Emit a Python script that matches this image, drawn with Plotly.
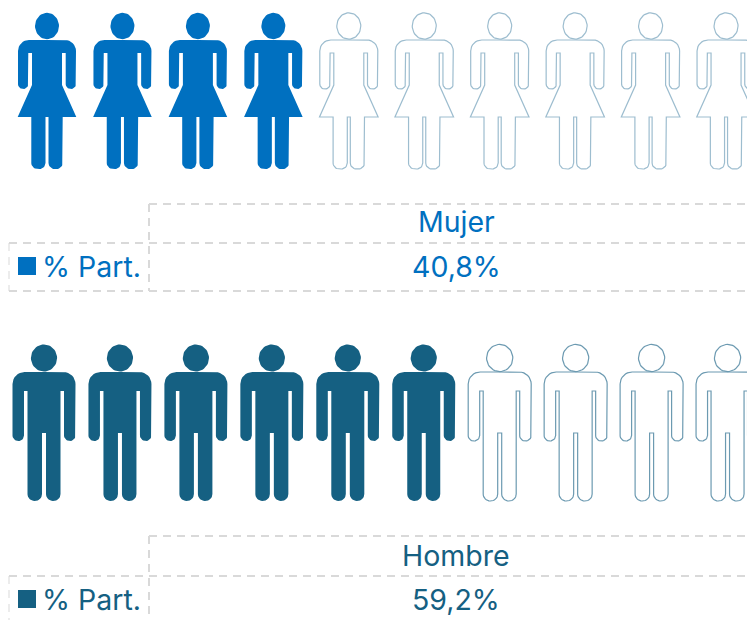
import math
import plotly.graph_objects as go

categories = ["Mujer", "Hombre"]
part_values = [40.8, 59.2]
row_label = "% Part."
icons_total = 10
colors = ["#0070C0", "#156082"]
outline_colors = ["#9DBDCF", "#6C9AB1"]

FONT = "Inter"
GRID = "#D9D9D9"


def rounded(points, n=8):
    out = []
    m = len(points)
    for i, (x, y, r) in enumerate(points):
        if r == 0 or i == 0 or i == m - 1:
            out.append((x, y))
            continue
        px, py, _ = points[i - 1]
        qx, qy, _ = points[i + 1]
        a = math.hypot(px - x, py - y)
        b = math.hypot(qx - x, qy - y)
        sx, sy = x + (px - x) / a * r, y + (py - y) / a * r
        ex, ey = x + (qx - x) / b * r, y + (qy - y) / b * r
        for k in range(n + 1):
            t = k / n * math.pi / 2
            u, v = 1 - math.sin(t), 1 - math.cos(t)
            out.append((x + (sx - x) * u + (ex - x) * v, y + (sy - y) * u + (ey - y) * v))
    return out


def mirrored(half):
    pts = rounded(half)
    return pts + [(-x, y) for x, y in reversed(pts)]


def ellipse(cy, rx, ry, n=48):
    return [(rx * math.cos(2 * math.pi * k / n), cy + ry * math.sin(2 * math.pi * k / n)) for k in range(n + 1)]


woman_half = [
    (0, 40, 0), (29, 40, 11), (29, 89, 5), (18.7, 89, 5), (18.7, 53, 0), (15, 53, 0), (15, 85, 0),
    (29.3, 117, 0), (15.7, 117, 0), (15.7, 169, 6), (1.5, 169, 6), (1.5, 117, 0), (0, 117, 0),
]
man_half = [
    (0, 372, 0), (31.5, 372, 12), (31.5, 441, 5.5), (20, 441, 5.5), (20, 391, 0), (16.5, 391, 0),
    (16.5, 501, 7), (2, 501, 7), (2, 433, 0), (0, 433, 0),
]
glyphs = [
    {"body": mirrored(woman_half), "head": ellipse(26, 12, 13.2), "x0": 47.0, "pitch": 75.45},
    {"body": mirrored(man_half), "head": ellipse(358, 13.1, 13.6), "x0": 44.0, "pitch": 75.95},
]
rows = [
    {"top": 204, "mid": 243, "bot": 291, "head_y": 221, "val_y": 266},
    {"top": 536, "mid": 576, "bot": 624, "head_y": 555, "val_y": 599},
]

fig = go.Figure()
annotations, shapes = [], []


def dashed(x0, y0, x1, y1, width=2):
    shapes.append(dict(type="line", xref="x", yref="y", x0=x0, y0=y0, x1=x1, y1=y1,
                       line=dict(color=GRID, width=width, dash="8px,6px")))


def label(x, y, text, color, anchor="center", size=28.5):
    annotations.append(dict(x=x, y=y, xref="x", yref="y", text=text, showarrow=False, xanchor=anchor,
                            yanchor="middle", font=dict(family=FONT, size=size, color=color)))


for c, (cat, val) in enumerate(zip(categories, part_values)):
    g, r = glyphs[c], rows[c]
    filled = round(val / 100 * icons_total)
    for i in range(icons_total):
        cx = g["x0"] + g["pitch"] * i
        xs, ys = [], []
        for poly in (g["head"], g["body"] + g["body"][:1]):
            xs += [cx + p[0] for p in poly] + [None]
            ys += [p[1] for p in poly] + [None]
        on = i < filled
        fig.add_trace(go.Scatter(
            x=xs, y=ys, mode="lines", fill="toself",
            fillcolor=colors[c] if on else "rgba(255,255,255,0)",
            line=dict(color=colors[c] if on else outline_colors[c], width=0 if on else 1.2),
            hoverinfo="skip", showlegend=False))
    dashed(149, r["top"], 747, r["top"])
    dashed(9, r["mid"], 747, r["mid"])
    dashed(9, r["bot"], 747, r["bot"])
    dashed(149, r["top"], 149, r["bot"])
    dashed(9, r["mid"], 9, r["bot"], 1)
    label(456, r["head_y"], cat, colors[c])
    label(456, r["val_y"], f"{val:.1f}%".replace(".", ","), colors[c])
    label(40, r["val_y"], row_label, colors[c], "left")
    fig.add_trace(go.Scatter(x=[27], y=[r["val_y"]], mode="markers",
                             marker=dict(symbol="square", size=18, color=colors[c], line=dict(width=0)),
                             hoverinfo="skip", showlegend=False))

fig.update_layout(
    width=747, height=620, margin=dict(l=0, r=0, t=0, b=0),
    paper_bgcolor="white", plot_bgcolor="white", showlegend=False,
    xaxis=dict(range=[0, 747], visible=False, fixedrange=True),
    yaxis=dict(range=[620, 0], visible=False, fixedrange=True),
    shapes=shapes, annotations=annotations,
)
fig.write_html("out.html", post_script="document.body.style.margin='0';", config={"displayModeBar": False})
